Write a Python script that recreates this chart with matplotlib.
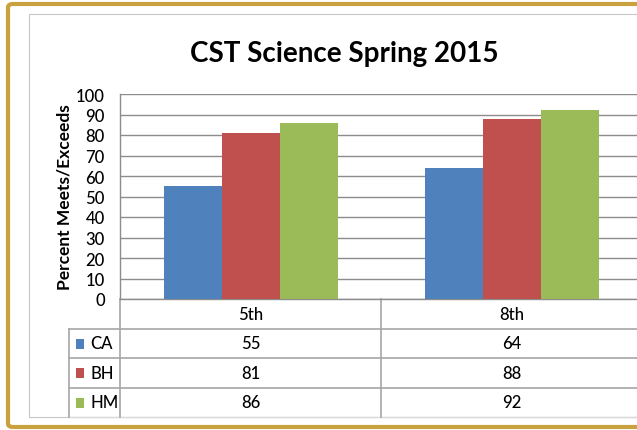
import matplotlib
matplotlib.use('Agg')
import matplotlib.pyplot as plt
import numpy as np
from matplotlib.patches import Rectangle, FancyBboxPatch
from matplotlib.lines import Line2D
from matplotlib.transforms import blended_transform_factory

plt.rcParams['font.family'] = ['Lato', 'DejaVu Sans']
plt.rcParams['font.weight'] = 'medium'

# data
grades = ['5th', '8th']
series = ['CA', 'BH', 'HM']
ca = [55, 64]
bh = [81, 88]
hm = [86, 92]
colors = ['#4F81BD', '#C0504D', '#9BBB59']
yticks = [0, 10, 20, 30, 40, 50, 60, 70, 80, 90, 100]

W, H = 637, 431
fig = plt.figure(figsize=(W / 100, H / 100), dpi=100)


def fx(x):
    return x / W


def fy(y):
    return 1 - y / H


# gold frame + inner grey frame (right side runs off the picture)
fig.patches.append(FancyBboxPatch((fx(8), fy(428)), fx(700), fy(5) - fy(428),
                                  boxstyle='round,pad=0,rounding_size=0.008',
                                  transform=fig.transFigure, facecolor='none',
                                  edgecolor='#C9A13F', linewidth=3.0, zorder=-1))
fig.patches.append(Rectangle((fx(29), fy(418)), fx(700), fy(15) - fy(418),
                             transform=fig.transFigure, facecolor='none',
                             edgecolor='#C8C8C8', linewidth=0.8, zorder=-1))

ax = fig.add_axes([fx(120), fy(300), fx(522), fy(95) - fy(300)], zorder=2)
ax.set_facecolor('none')
ax.set_xlim(0, len(grades))
ax.set_ylim(0, 100)

x = np.arange(len(grades)) + 0.5
bw = 58 / 261
for i, (vals, c) in enumerate(zip([ca, bh, hm], colors)):
    ax.bar(x + (i - 1) * bw, vals, bw, color=c, edgecolor='none', zorder=3)

ax.set_yticks(yticks)
ax.yaxis.grid(True, color='#8C8C8C', linewidth=1.0, zorder=0)
ax.set_axisbelow(True)
ax.set_xticks([])
ax.tick_params(axis='y', length=0, pad=11, labelsize=12, labelcolor='black')
for s in ['top', 'right']:
    ax.spines[s].set_visible(False)
ax.spines['left'].set_color('#8C8C8C')
ax.spines['bottom'].set_color('#8C8C8C')
ax.spines['left'].set_linewidth(1.0)
ax.spines['bottom'].set_linewidth(1.0)

fig.text(fx(344), fy(54), 'CST Science Spring 2015', ha='center', va='center',
         fontsize=20, fontweight='bold')
fig.text(fx(65), fy(197), 'Percent Meets/Exceeds', ha='center', va='center',
         rotation=90, fontsize=12.5, fontweight='bold')

# data table under the axis
tc = '#A6A6A6'
bt = blended_transform_factory(ax.transData, fig.transFigure)
rows_y = [300, 330, 359, 389, 418]
for yl in rows_y[1:4]:
    fig.add_artist(Line2D([fx(69), fx(700)], [fy(yl)] * 2, color=tc, lw=1.2,
                          transform=fig.transFigure))
fig.add_artist(Line2D([fx(69), fx(700)], [fy(418)] * 2, color='#D9D9D9', lw=1.0,
                      transform=fig.transFigure))
fig.add_artist(Line2D([fx(69)] * 2, [fy(330), fy(418)], color=tc, lw=1.2,
                      transform=fig.transFigure))
for k in range(len(grades)):
    ax.add_artist(Line2D([k, k], [fy(300), fy(418)], color=tc, lw=1.2, transform=bt,
                         clip_on=False))

# header row
for k, g in enumerate(grades):
    fig.text(x[k], fy(315), g, transform=bt, ha='center', va='center', fontsize=12)

# series rows
for r, (name, vals, c) in enumerate(zip(series, [ca, bh, hm], colors)):
    yc = (rows_y[r + 1] + rows_y[r + 2]) / 2
    fig.patches.append(Rectangle((fx(76), fy(yc + 5)), fx(8), fy(yc - 5) - fy(yc + 5),
                                 transform=fig.transFigure, facecolor=c, edgecolor='none'))
    fig.text(fx(90), fy(yc), name, ha='left', va='center', fontsize=12)
    for k, v in enumerate(vals):
        fig.text(x[k], fy(yc), str(v), transform=bt, ha='center', va='center', fontsize=12)

fig.savefig('out.png', dpi=100)
